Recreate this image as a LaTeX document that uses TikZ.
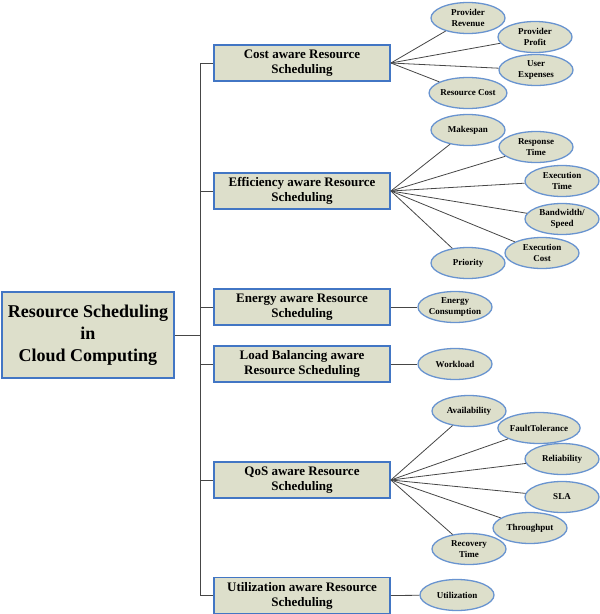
\documentclass[tikz,border=0pt]{standalone}
\usepackage{fontspec}
\setmainfont{Liberation Serif}
\usetikzlibrary{shapes.geometric}
\definecolor{boxfill}{RGB}{221,223,203}
\definecolor{boxline}{RGB}{66,118,196}
\definecolor{ovalline}{RGB}{105,148,208}
\definecolor{linkgray}{RGB}{70,70,70}
\begin{document}
\begin{tikzpicture}[x=1pt,y=-1pt,
    rootbox/.style={draw=boxline,line width=2pt,fill=boxfill,minimum width=172pt,minimum height=86pt,align=center,font=\fontsize{18}{22}\selectfont\bfseries},
    catbox/.style={draw=boxline,line width=1.8pt,fill=boxfill,minimum width=176pt,minimum height=36pt,inner sep=1pt,align=center,font=\fontsize{13}{15}\selectfont\bfseries},
    oval/.style={ellipse,draw=ovalline,line width=1.3pt,fill=boxfill,minimum width=74pt,minimum height=31pt,inner sep=0pt,align=center,font=\fontsize{9}{10.5}\selectfont\bfseries},
    link/.style={draw=linkgray,line width=0.8pt}]
      \useasboundingbox (0,0) rectangle (600,614);

      % Root and the bus
      \node[rootbox] (root) at (88,335) {Resource Scheduling\\in\\Cloud Computing};
      \coordinate (bus) at (200,335);

      % Categories
      \node[catbox] (cost) at (302,63) {Cost aware Resource\\Scheduling};
      \node[catbox] (eff) at (302,191) {Efficiency aware Resource\\Scheduling};
      \node[catbox] (energy) at (302,307) {Energy aware Resource\\Scheduling};
      \node[catbox] (load) at (302,364) {Load Balancing aware\\Resource Scheduling};
      \node[catbox] (qos) at (302,480) {QoS aware Resource\\Scheduling};
      \node[catbox] (util) at (302,595.5) {Utilization aware Resource\\Scheduling};

      \draw[link] (root.east) -- (bus);
      \foreach \c in {cost,eff,energy,load,qos,util}
        \draw[link] (bus) |- (\c.west);

      % Cost branch
      \node[oval] (provrev) at (468,18) {Provider\\Revenue};
      \node[oval] (provprof) at (535,37) {Provider\\Profit};
      \node[oval] (userexp) at (536,70) {User\\Expenses};
      \node[oval] (rescost) at (468,93) {Resource Cost};
      \foreach \o in {provrev,provprof,userexp,rescost}
        \draw[link] (cost.east) -- (\o);

      % Efficiency branch
      \node[oval] (makespan) at (468,130) {Makespan};
      \node[oval] (resptime) at (536,147) {Response\\Time};
      \node[oval] (exectime) at (562,181) {Execution\\Time};
      \node[oval] (bandwidth) at (562,219) {Bandwidth/\\Speed};
      \node[oval] (execcost) at (542,253) {Execution\\Cost};
      \node[oval] (priority) at (468,263) {Priority};
      \foreach \o in {makespan,resptime,exectime,bandwidth,execcost,priority}
        \draw[link] (eff.east) -- (\o);

      % Energy and load branches
      \node[oval] (energycons) at (455,307) {Energy\\Consumption};
      \node[oval] (workload) at (455,364) {Workload};
      \draw[link] (energy.east) -- (energycons);
      \draw[link] (load.east) -- (workload);

      % QoS branch
      \node[oval] (avail) at (469,411) {Availability};
      \node[oval] (faulttol) at (539,428) {FaultTolerance};
      \node[oval] (reliab) at (562,459) {Reliability};
      \node[oval] (sla) at (562,497) {SLA};
      \node[oval] (throughput) at (530,528) {Throughput};
      \node[oval] (rectime) at (469,549) {Recovery\\Time};
      \foreach \o in {avail,faulttol,reliab,sla,throughput,rectime}
        \draw[link] (qos.east) -- (\o);

      % Utilization branch
      \node[oval] (utiliz) at (457,595) {Utilization};
      \draw[link] (util.east) -- (utiliz);
    \end{tikzpicture}
\end{document}
